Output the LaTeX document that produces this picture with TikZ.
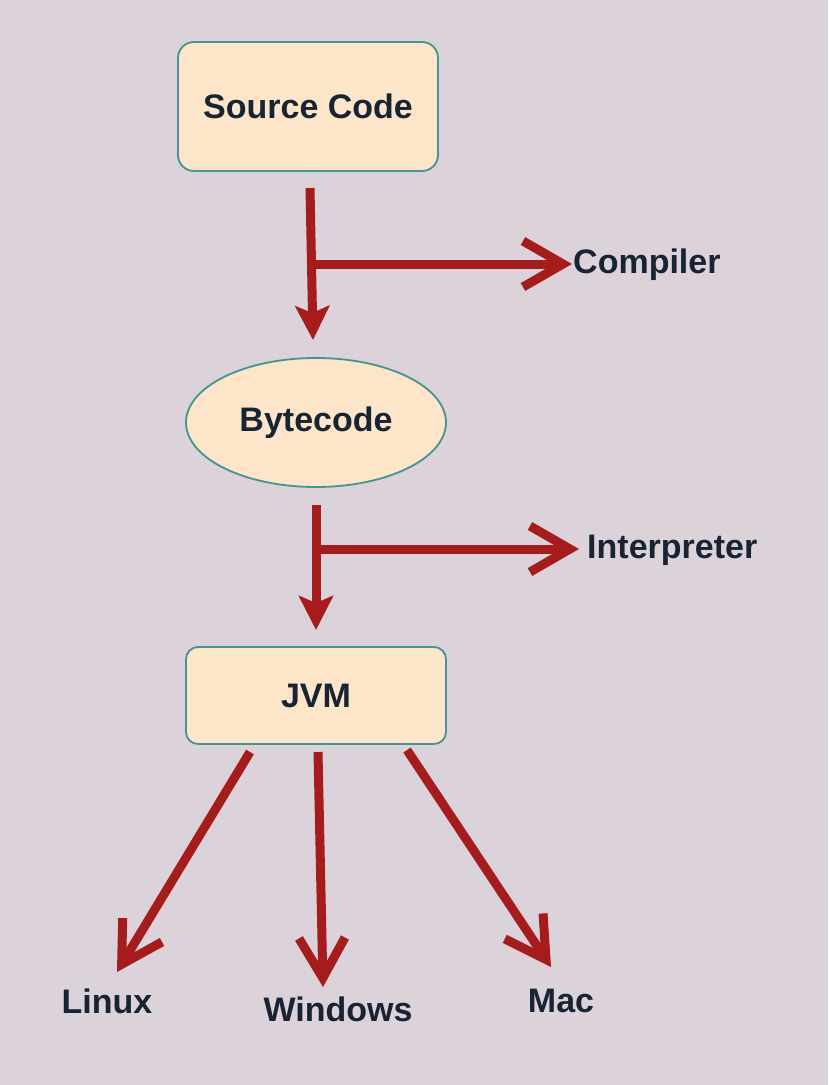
\documentclass[tikz,border=0pt]{standalone}
\usepackage{fontspec}
\setmainfont{Liberation Sans}
\usetikzlibrary{shapes.geometric,arrows.meta}
\definecolor{bg}{RGB}{220,210,218}
\definecolor{boxfill}{RGB}{252,229,200}
\definecolor{boxline}{RGB}{66,150,145}
\definecolor{arr}{RGB}{166,28,28}
\definecolor{txt}{RGB}{24,36,52}
\tikzset{
  box/.style={draw=boxline, fill=boxfill, line width=1.8pt, rounded corners=16pt,
    minimum width=260pt, text=txt, font=\fontsize{34}{40}\selectfont\bfseries},
  oval/.style={ellipse, draw=boxline, fill=boxfill, line width=1.8pt,
    minimum width=260pt, minimum height=129pt, inner sep=0pt, text=txt,
    font=\fontsize{34}{40}\selectfont\bfseries},
  lab/.style={text=txt, inner sep=0pt, font=\fontsize{34}{40}\selectfont\bfseries},
  bigarr/.style={draw=arr, line width=9pt, -{Straight Barb[length=40pt,width=46pt]}},
  smallarr/.style={draw=arr, fill=arr, line width=9pt, -{Stealth[length=34pt,width=34pt,inset=7pt]}},
}
\begin{document}
\begin{tikzpicture}[x=1pt,y=-1pt]
\fill[bg] (0,0) rectangle (828,1085);
\useasboundingbox (0,0) rectangle (828,1085);

\node[box, minimum height=129pt] (src) at (308,106.5) {Source Code};
\node[oval] (byte) at (316,422.5) {Bytecode};
\node[box, minimum height=97pt, rounded corners=12pt] (jvm) at (316,695.5) {JVM};

\node[lab, anchor=west] (comp) at (573,265) {Compiler};
\node[lab, anchor=west] (interp) at (587,550) {Interpreter};
\node[lab] (linux) at (107,1001) {Linux};
\node[lab] (win) at (338,1009) {Windows};
\node[lab] (mac) at (561,1001) {Mac};

% Source -> Bytecode with Compiler branch
\coordinate (s1) at (310,188);
\coordinate (e1) at (313,340);
\coordinate (b1) at (312,264);
\coordinate (t1) at (572,264);
\draw[smallarr] (s1) -- (e1);
\draw[bigarr] (b1) -- (t1);

% Bytecode -> JVM with Interpreter branch
\coordinate (s2) at (316,505);
\coordinate (e2) at (316,630);
\coordinate (b2) at (316,549);
\coordinate (t2) at (579,549);
\draw[smallarr] (s2) -- (e2);
\draw[bigarr] (b2) -- (t2);

% JVM -> platforms
\coordinate (sl) at (250,752);
\coordinate (el) at (117,972);
\coordinate (sw) at (318,752);
\coordinate (ew) at (323,987);
\coordinate (sm) at (407,750);
\coordinate (em) at (551,967);
\draw[bigarr] (sl) -- (el);
\draw[bigarr] (sw) -- (ew);
\draw[bigarr] (sm) -- (em);
\end{tikzpicture}
\end{document}
